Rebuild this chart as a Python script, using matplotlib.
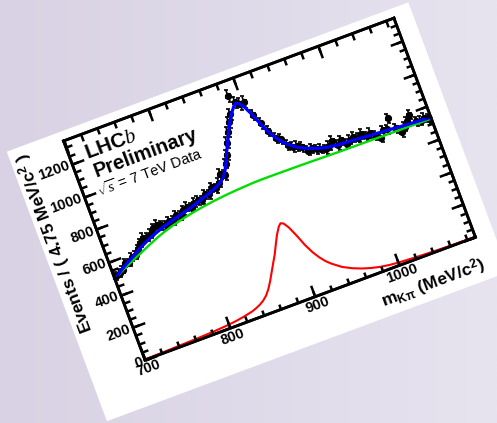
import numpy as np
import matplotlib
matplotlib.use("Agg")
import matplotlib.pyplot as plt
from matplotlib.colors import LinearSegmentedColormap
from matplotlib.patches import Rectangle
from matplotlib.transforms import Affine2D
import mpl_toolkits.axisartist.floating_axes as floating_axes
from mpl_toolkits.axisartist.grid_finder import FixedLocator, DictFormatter

plt.rcParams['font.family'] = ['Liberation Sans', 'DejaVu Sans']
plt.rcParams['mathtext.fontset'] = 'custom'
plt.rcParams['mathtext.rm'] = 'Liberation Sans'
plt.rcParams['mathtext.it'] = 'Liberation Serif:italic'
plt.rcParams['mathtext.bf'] = 'Liberation Sans:bold'

# histogram of m(K pi): 82 bins of 4.75 MeV from 700 MeV
bin_lo = 700.0
bin_width = 4.75
counts = [510, 518, 530, 560, 555, 580, 585, 612, 640, 662,
          655, 668, 690, 705, 690, 684, 700, 692, 715, 705,
          728, 740, 725, 748, 752, 745, 770, 762, 795, 780,
          805, 850, 835, 895, 940, 1005, 1060, 1110, 1150, 1254,
          1205, 1185, 1188, 1100, 1040, 985, 930, 915, 870, 850,
          845, 830, 800, 805, 790, 785, 770, 785, 806, 770,
          790, 760, 775, 782, 768, 782, 760, 770, 745, 724,
          760, 755, 813, 745, 711, 735, 760, 790, 740, 735,
          745, 730]

# total fit (blue)
fit_mass = [700, 705, 710, 715, 720, 725, 730, 740, 750, 760, 770, 780, 790, 800,
            810, 820, 830, 840, 845, 850, 855, 860, 865, 870, 875, 880, 885, 890,
            893, 896, 900, 905, 910, 915, 920, 925, 930, 940, 950, 960, 970, 980,
            990, 1000, 1020, 1040, 1060, 1089.5]
fit_total = [497, 512, 530, 545, 560, 573, 588, 616, 640, 660, 678, 692, 706, 719,
             733, 750, 766, 787, 800, 818, 850, 900, 958, 1010, 1065, 1115, 1155, 1188,
             1198, 1190, 1165, 1110, 1045, 985, 940, 905, 878, 838, 812, 793, 779, 772,
             768, 765, 757, 750, 742, 733]

# background component (green)
bkg_mass = [700, 705, 710, 715, 720, 730, 740, 750, 760, 770, 780, 790, 800, 810,
            820, 830, 840, 850, 860, 870, 880, 890, 900, 920, 940, 960, 980, 1000,
            1020, 1040, 1060, 1089.5]
fit_bkg = [492, 508, 522, 535, 546, 568, 590, 612, 633, 651, 666, 679, 690, 700,
           708, 715, 721, 726, 730, 733, 736, 737, 737, 736, 735, 733, 731, 730,
           729, 728, 727, 725]

# K*0 signal component (red)
sig_mass = [700, 720, 740, 760, 780, 800, 810, 820, 830, 835, 840, 845, 850, 855,
            860, 865, 870, 875, 880, 885, 890, 893, 896, 900, 905, 910, 915, 920,
            925, 930, 940, 950, 960, 970, 980, 990, 1000, 1020, 1040, 1060, 1089.5]
fit_sig = [3, 5, 8, 11, 15, 22, 28, 36, 47, 56, 67, 82, 103, 134,
           174, 219, 264, 308, 360, 410, 450, 464, 457, 425, 365, 298, 245, 204,
           171, 146, 106, 79, 58, 42, 30, 22, 17, 11, 7, 4, 2]

x_major = [700, 800, 900, 1000]
x_minor = list(range(700, 1090, 20))
y_major = [0, 200, 400, 600, 800, 1000, 1200]
y_minor = list(range(0, 1340, 50))

x_range = (700, 1089.5)
y_range = (0, 1340)

W, H = 497, 423
fig = plt.figure(figsize=(W / 100, H / 100), dpi=100)

# lavender slide background
bg = fig.add_axes([0, 0, 1, 1])
bg.imshow(np.linspace(0, 1, 256).reshape(1, -1), extent=(0, W, 0, H), aspect='auto',
          cmap=LinearSegmentedColormap.from_list('bg', ['#d8d2e4', '#e7e3ef']))
bg.set_xlim(0, W)
bg.set_ylim(0, H)
bg.axis('off')

# the plot is pasted on the slide tilted by ~20 degrees
tr = (Affine2D().translate(-x_range[0], 0).scale(0.905, 0.1744)
      .rotate_deg(20.4).translate(145, 63))


def make_frame(xticks, yticks, with_labels):
    fmt_x = DictFormatter({v: str(v) for v in xticks} if with_labels else {})
    fmt_y = DictFormatter({v: str(v) for v in yticks} if with_labels else {})
    gh = floating_axes.GridHelperCurveLinear(
        tr, extremes=(*x_range, *y_range),
        grid_locator1=FixedLocator(xticks), grid_locator2=FixedLocator(yticks),
        tick_formatter1=fmt_x, tick_formatter2=fmt_y)
    a = fig.add_axes([0, 0, 1, 1], axes_class=floating_axes.FloatingAxes, grid_helper=gh)
    a.set_xlim(0, W)
    a.set_ylim(0, H)
    a.set_autoscale_on(False)
    a.axis[:].line.set_linewidth(2)
    a.axis[:].major_ticks.set_tick_out(False)
    a.axis[:].major_ticks.set_markeredgewidth(1.8)
    return a


ax = make_frame(x_major, y_major, True)
ax.axis[:].major_ticks.set_ticksize(9)
for side in ['left', 'bottom']:
    ax.axis[side].major_ticklabels.set_fontsize(10.5)
    ax.axis[side].major_ticklabels.set_fontweight('bold')
ax.axis['left'].major_ticklabels.set_pad(2)
ax.axis['bottom'].major_ticklabels.set_pad(2)

aux = ax.get_aux_axes(tr)

# white sheet behind the frame
aux.add_patch(Rectangle((637, -253), 473.5, 1649, facecolor='white',
                        edgecolor='none', clip_on=False, zorder=-10))

centers = bin_lo + bin_width * (np.arange(len(counts)) + 0.5)
aux.errorbar(centers, counts, yerr=np.sqrt(counts), xerr=bin_width / 2, fmt='o',
             color='black', ms=4.2, elinewidth=1.2, capsize=1.6, capthick=1.2, zorder=3)
aux.plot(bkg_mass, fit_bkg, color='#00dd00', lw=1.7, zorder=4)
aux.plot(sig_mass, fit_sig, color='red', lw=1.5, zorder=4)
aux.plot(fit_mass, fit_total, color='blue', lw=2.3, zorder=5)

rot = 20.4
aux.text(717, 1194, r'LHC$\mathit{b}$', fontsize=15, fontweight='bold',
         rotation=rot, rotation_mode='anchor', ha='left', va='baseline')
aux.text(720, 1081, 'Preliminary', fontsize=14.5, fontweight='bold',
         rotation=rot, rotation_mode='anchor', ha='left', va='baseline')
aux.text(716, 967, r'$\sqrt{s}$ = 7 TeV Data', fontsize=10.5,
         rotation=rot, rotation_mode='anchor', ha='left', va='baseline')
aux.text(1089, -195, r'$\mathbf{m_{K\pi}}$ (MeV/c$^{\mathbf{2}}$)', fontsize=12.5,
         fontweight='bold', rotation=rot, rotation_mode='anchor', ha='right',
         va='baseline')
aux.text(652, 1355, r'Events / ( 4.75 MeV/c$^{\mathbf{2}}$ )', fontsize=12.5,
         fontweight='bold', rotation=90 + rot, rotation_mode='anchor', ha='right',
         va='center')

# second frame only for the minor ticks
ax2 = make_frame(x_minor, y_minor, False)
ax2.set_facecolor('none')
ax2.axis[:].major_ticks.set_ticksize(4.5)
ax2.axis[:].major_ticklabels.set_visible(False)

fig.savefig('out.png', dpi=100)
